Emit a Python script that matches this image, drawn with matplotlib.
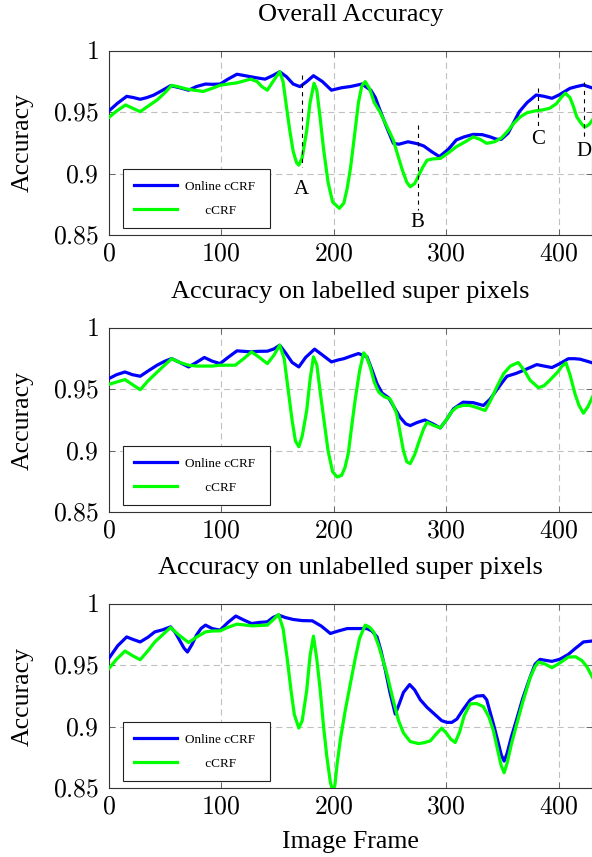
import matplotlib
matplotlib.use('Agg')
import matplotlib.pyplot as plt

plt.rcParams['font.family'] = ['Liberation Serif', 'DejaVu Serif']
plt.rcParams['mathtext.fontset'] = 'cm'
plt.rcParams['lines.scale_dashes'] = False

# ---------------- data ----------------
titles = ["Overall Accuracy", "Accuracy on labelled super pixels",
          "Accuracy on unlabelled super pixels"]
series_names = ["Online cCRF", "cCRF"]
xticks = [0, 100, 200, 300, 400]
yticks = [0.85, 0.9, 0.95, 1.0]
ytick_labels = ["0.85", "0.9", "0.95", "1"]

# Panel 1 : overall accuracy
overall_online_x = [0, 8, 16, 22, 28, 34, 40, 48, 55, 63, 71, 78, 86, 92, 99, 106, 114, 120, 126, 132,
                    139, 146, 152, 158, 164, 170, 176, 182, 190, 198, 207, 215, 225, 233, 237, 241, 247,
                    253, 258, 266, 274, 280, 287, 294, 302, 309, 316, 324, 332, 339, 345, 349, 355, 365,
                    372, 376, 380, 387, 394, 400, 410, 416, 422, 430]
overall_online_y = [0.951, 0.9575, 0.963, 0.962, 0.9606, 0.962, 0.964, 0.968, 0.9717, 0.970, 0.968, 0.971,
                    0.973, 0.9728, 0.973, 0.977, 0.981, 0.980, 0.979, 0.978, 0.977, 0.980, 0.983, 0.979,
                    0.973, 0.9709, 0.975, 0.9798, 0.975, 0.968, 0.970, 0.971, 0.973, 0.968, 0.962, 0.952,
                    0.938, 0.9248, 0.924, 0.926, 0.9245, 0.9226, 0.918, 0.9139, 0.920, 0.9275, 0.930,
                    0.932, 0.9318, 0.930, 0.928, 0.928, 0.933, 0.9505, 0.958, 0.961, 0.9641, 0.963,
                    0.9614, 0.964, 0.9695, 0.971, 0.9722, 0.9698]
overall_ccrf_x = [0, 7, 15, 22, 28, 35, 43, 50, 56, 63, 69, 76, 84, 92, 99, 106, 114, 120, 126, 132, 136,
                  141, 146, 152, 155, 158, 161, 164, 167, 169, 172, 176, 179, 182.5, 185, 188, 191, 195,
                  199, 205, 209, 212, 215, 219, 222, 225, 228, 232, 236, 241, 247, 253, 257, 261, 265,
                  268, 272, 275, 279, 283, 288, 295, 302, 309, 317, 324, 330, 336, 343, 349, 355, 360,
                  366, 372, 380, 386, 392, 398, 403, 406, 410, 413, 416, 420, 423, 427, 430]
overall_ccrf_y = [0.9457, 0.951, 0.956, 0.953, 0.9505, 0.955, 0.960, 0.966, 0.972, 0.9705, 0.969, 0.968,
                  0.967, 0.9695, 0.972, 0.973, 0.974, 0.9755, 0.977, 0.975, 0.971, 0.968, 0.975, 0.983,
                  0.975, 0.9546, 0.935, 0.918, 0.909, 0.907, 0.913, 0.935, 0.958, 0.9736, 0.968, 0.945,
                  0.92, 0.893, 0.877, 0.8718, 0.876, 0.888, 0.905, 0.935, 0.958, 0.9715, 0.975, 0.969,
                  0.958, 0.9505, 0.939, 0.9274, 0.915, 0.903, 0.893, 0.8894, 0.892, 0.8975, 0.905,
                  0.911, 0.912, 0.9125, 0.917, 0.922, 0.926, 0.930, 0.928, 0.9247, 0.926, 0.929, 0.935,
                  0.941, 0.9464, 0.9497, 0.9513, 0.952, 0.9533, 0.957, 0.963, 0.9655, 0.962, 0.955,
                  0.9464, 0.941, 0.9378, 0.940, 0.9437]

# Panel 2 : labelled super pixels
labelled_online_x = [0, 7, 14.5, 21, 28, 35, 43, 50, 56, 63, 71, 78, 85, 92, 99, 106, 114, 120, 126, 133,
                     141, 147, 152, 157, 163, 169, 175, 183, 190, 198, 204, 209, 215, 222, 229.6, 234,
                     238.5, 243, 248.8, 254, 259, 264, 268, 274, 281, 288, 294.7, 300, 306.5, 315, 324,
                     333, 339, 345, 350, 354, 362, 369, 375, 380.5, 387, 394, 401, 408.6, 414, 419, 425,
                     430]
labelled_online_y = [0.9587, 0.962, 0.9642, 0.962, 0.9607, 0.965, 0.9697, 0.973, 0.9751, 0.972, 0.9683,
                     0.972, 0.976, 0.973, 0.971, 0.976, 0.9814, 0.981, 0.9806, 0.981, 0.9811, 0.983,
                     0.986, 0.980, 0.972, 0.9683, 0.976, 0.9828, 0.978, 0.9724, 0.974, 0.975, 0.977,
                     0.9792, 0.9765, 0.966, 0.9546, 0.947, 0.9432, 0.935, 0.9273, 0.922, 0.9205, 0.923,
                     0.9251, 0.922, 0.9186, 0.925, 0.9342, 0.9396, 0.9392, 0.9369, 0.942, 0.9497, 0.956,
                     0.9607, 0.963, 0.9656, 0.968, 0.9702, 0.969, 0.9678, 0.971, 0.975, 0.975, 0.9746,
                     0.973, 0.9716]
labelled_ccrf_x = [0, 7, 14.5, 21, 28, 35, 43, 50, 56, 63, 71, 78, 84, 92, 99, 106, 112.5, 120, 127, 134,
                   141, 147, 152, 156, 160, 163, 166, 169, 172, 176, 179, 182, 185, 188, 191, 195, 199,
                   203, 207, 210, 213, 216, 219, 223, 226.6, 229, 232.5, 236, 240, 245, 250, 253, 256,
                   259, 262, 265, 268, 272, 276, 280, 283, 288, 294.7, 300, 305, 309.5, 315, 321, 328,
                   334.6, 340, 345, 351, 357, 364, 369, 374.6, 382, 387, 392, 399, 403, 406.5, 410,
                   414.5, 418, 422, 426, 430]
labelled_ccrf_y = [0.954, 0.956, 0.958, 0.954, 0.9497, 0.957, 0.964, 0.970, 0.975, 0.972, 0.9697, 0.969,
                   0.969, 0.969, 0.9697, 0.9697, 0.9697, 0.975, 0.9806, 0.976, 0.971, 0.978, 0.986,
                   0.975, 0.9464, 0.925, 0.908, 0.9033, 0.912, 0.9328, 0.958, 0.9765, 0.970, 0.948,
                   0.9273, 0.90, 0.883, 0.8787, 0.880, 0.8863, 0.898, 0.92, 0.941, 0.965, 0.9798, 0.977,
                   0.9683, 0.956, 0.9478, 0.944, 0.9423, 0.937, 0.93, 0.915, 0.900, 0.891, 0.8896, 0.897,
                   0.908, 0.918, 0.9232, 0.921, 0.9186, 0.925, 0.932, 0.9355, 0.937, 0.9369, 0.935,
                   0.9328, 0.942, 0.952, 0.9628, 0.969, 0.9719, 0.966, 0.9574, 0.9514, 0.953, 0.9574,
                   0.964, 0.969, 0.9716, 0.962, 0.9464, 0.937, 0.9306, 0.936, 0.9437]

# Panel 3 : unlabelled super pixels
unlabelled_online_x = [0, 8, 16, 22, 28, 35, 41, 48, 55, 59, 63, 67, 70, 74, 78, 82, 86, 92, 99, 106, 113,
                       120, 127, 134, 141, 146, 151, 157, 164, 172, 181, 189, 197, 204, 212, 220, 229.6,
                       234, 238.5, 242, 246, 250, 254.7, 258, 262, 267.5, 272, 277, 283, 290, 296, 300.6,
                       305, 309.5, 315, 321.3, 327, 333, 336, 339, 342, 346, 349, 351.5, 354, 358, 362.7,
                       368, 374.6, 379, 383.4, 389, 394, 401, 408.6, 415, 422, 430]
unlabelled_online_y = [0.9555, 0.966, 0.9732, 0.971, 0.9691, 0.973, 0.9773, 0.979, 0.9814, 0.977, 0.9705,
                       0.964, 0.9609, 0.967, 0.9746, 0.980, 0.9828, 0.980, 0.9787, 0.985, 0.9902, 0.987,
                       0.9841, 0.985, 0.9855, 0.989, 0.991, 0.989, 0.9874, 0.9865, 0.9863, 0.982, 0.976,
                       0.978, 0.980, 0.980, 0.980, 0.978, 0.9732, 0.962, 0.9459, 0.928, 0.9104, 0.918,
                       0.928, 0.9344, 0.930, 0.922, 0.9158, 0.910, 0.905, 0.9036, 0.9036, 0.9063, 0.914,
                       0.9219, 0.925, 0.9254, 0.922, 0.912, 0.9022, 0.888, 0.877, 0.8721, 0.878, 0.892,
                       0.9063, 0.923, 0.9404, 0.951, 0.9549, 0.954, 0.9533, 0.955, 0.959, 0.964, 0.9691,
                       0.9699]
unlabelled_ccrf_x = [0, 7, 14.5, 21, 28, 35, 41, 48, 55, 62, 71, 78, 86, 92, 99, 106, 114, 120, 127, 134,
                     141, 146, 151, 155, 158.5, 162, 165, 169, 172, 176, 179, 182, 185, 188, 191, 194,
                     197, 199, 201, 203, 206, 210, 214.8, 219, 223, 228, 232, 235.5, 240, 247.3, 252,
                     257.7, 262, 268, 275.4, 280, 285.8, 291, 296, 300, 304, 308, 312, 316, 321.3, 327,
                     333, 338, 342, 346, 349, 351.5, 354, 358, 362.7, 368, 374.6, 379, 382, 388, 394,
                     401, 408.6, 415, 420.5, 425, 430]
unlabelled_ccrf_y = [0.9473, 0.955, 0.9617, 0.958, 0.9546, 0.962, 0.9691, 0.975, 0.9809, 0.975, 0.9686,
                     0.973, 0.9773, 0.978, 0.9781, 0.981, 0.9836, 0.983, 0.9822, 0.9825, 0.9828, 0.987,
                     0.9915, 0.980, 0.9568, 0.93, 0.91, 0.899, 0.905, 0.9295, 0.958, 0.9738, 0.955, 0.93,
                     0.90, 0.875, 0.855, 0.848, 0.852, 0.8694, 0.89, 0.912, 0.935, 0.955, 0.972, 0.9828,
                     0.981, 0.9773, 0.966, 0.9432, 0.925, 0.9049, 0.895, 0.888, 0.8863, 0.887, 0.8885,
                     0.894, 0.8989, 0.895, 0.890, 0.8872, 0.896, 0.909, 0.9186, 0.919, 0.9164, 0.908,
                     0.8967, 0.880, 0.868, 0.8626, 0.870, 0.886, 0.9022, 0.920, 0.9399, 0.949, 0.9527,
                     0.951, 0.9481, 0.952, 0.9568, 0.957, 0.954, 0.949, 0.9404]

# markers on the first panel
mark_labels = ["A", "B", "C", "D"]
mark_x = [171.6, 274.6, 381.3, 422.8]
mark_top = [0.9804, 0.9397, 0.9695, 0.975]
mark_bottom = [0.9057, 0.8703, 0.9383, 0.930]
mark_label_y = [0.8949, 0.868, 0.9356, 0.926]

panels = [
    (overall_online_x, overall_online_y, overall_ccrf_x, overall_ccrf_y),
    (labelled_online_x, labelled_online_y, labelled_ccrf_x, labelled_ccrf_y),
    (unlabelled_online_x, unlabelled_online_y, unlabelled_ccrf_x, unlabelled_ccrf_y),
]

# ---------------- layout ----------------
W, H = 592, 857
fig = plt.figure(figsize=(W / 100, H / 100), dpi=100)
left_px = 108.7
xmax = 430
width_px = xmax * 1.125
tops_px = [50.9, 328.0, 604.0]
height_px = 184.2

blue = '#0000ff'
green = '#00ff00'
tick_fs = 18.5
label_fs = 18.5
title_fs = 19

for i, (title, (ox, oy, cx, cy)) in enumerate(zip(titles, panels)):
    ax = fig.add_axes([left_px / W, 1 - (tops_px[i] + height_px) / H, width_px / W, height_px / H])
    ax.set_xlim(0, xmax)
    ax.set_ylim(0.85, 1.0)
    ax.plot(ox, oy, color=blue, lw=2.3, label=series_names[0], solid_joinstyle='round', zorder=3)
    ax.plot(cx, cy, color=green, lw=2.3, label="      " + series_names[1], solid_joinstyle='round', zorder=4)

    ax.set_xticks(xticks)
    ax.set_xticklabels([r'$%d$' % t for t in xticks], fontsize=tick_fs)
    ax.set_yticks(yticks)
    ax.set_yticklabels([r'$%s$' % t for t in ytick_labels], fontsize=tick_fs)
    ax.tick_params(direction='in', length=4, width=0.6, color='#555555', top=True, right=True,
                   pad=6)
    ax.tick_params(axis='y', pad=7)
    ax.grid(True, color='#c0c0c0', lw=0.8, linestyle=(0, (4.5, 3)))
    for sp in ax.spines.values():
        sp.set_color('#333333')
        sp.set_linewidth(0.8)

    ax.set_title(title, fontsize=title_fs, pad=21.5)
    ax.set_ylabel("Accuracy", fontsize=label_fs)
    ax.yaxis.set_label_coords(-0.155, 0.5)

    leg = ax.legend(loc='lower left', bbox_to_anchor=(0.029, 0.0385, 0.304, 0.315), mode='expand',
                    fontsize=9.5, handlelength=3.3, handletextpad=0.58, borderpad=0.85,
                    labelspacing=0.9, fancybox=False, framealpha=1, edgecolor='#222222',
                    borderaxespad=0)
    leg.get_frame().set_linewidth(0.8)

    if i == 0:
        for lab, mx, mt, mb, ly in zip(mark_labels, mark_x, mark_top, mark_bottom, mark_label_y):
            ax.plot([mx, mx], [mt, mb], color='black', lw=0.8, linestyle=(0, (3, 3)), zorder=5)
            ax.text(mx, ly, lab, ha='center', va='top', fontsize=15)
    if i == 2:
        ax.set_xlabel("Image Frame", fontsize=label_fs, labelpad=9)

fig.savefig('out.png', dpi=100)
